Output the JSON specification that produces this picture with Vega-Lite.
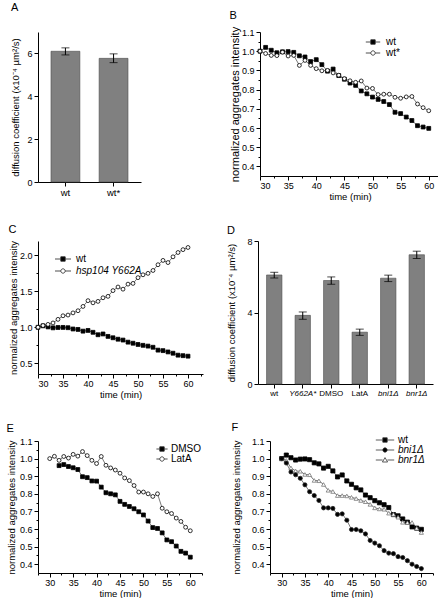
{
"$schema": "https://vega.github.io/schema/vega-lite/v6.json",
"padding": {"left": 6, "top": 2, "right": 0, "bottom": 0},
"config": {
  "font": "Liberation Sans",
  "view": {"stroke": null},
  "style": {"guide-title": {"fontWeight": "normal"}},
  "axis": {"grid": false, "domainColor": "black", "tickColor": "black", "labelColor": "black", "titleColor": "black", "labelFontSize": 9, "titleFontSize": 9.5, "titleFontWeight": "normal", "tickSize": 4, "domainWidth": 1, "tickWidth": 1},
  "axisX": {"labelPadding": 1, "titlePadding": 1},
  "axisY": {"labelPadding": 2, "titlePadding": 2},
  "legend": {"labelFontSize": 10, "labelColor": "black", "padding": 0},
  "title": {"fontSize": 11, "fontWeight": "normal", "anchor": "start", "frame": "bounds", "color": "black"}
},
"datasets": {
  "a": [
    {"g": "wt", "v": 6.1, "lo": 5.93, "hi": 6.26},
    {"g": "wt*", "v": 5.77, "lo": 5.57, "hi": 5.98}
  ],
  "d": [
    {"g": "wt", "v": 6.1, "lo": 5.93, "hi": 6.25},
    {"g": "Y662A*", "v": 3.84, "lo": 3.62, "hi": 4.03},
    {"g": "DMSO", "v": 5.79, "lo": 5.58, "hi": 5.99},
    {"g": "LatA", "v": 2.9, "lo": 2.72, "hi": 3.07},
    {"g": "bni1Δ", "v": 5.92, "lo": 5.73, "hi": 6.09},
    {"g": "bnr1Δ", "v": 7.23, "lo": 7.02, "hi": 7.43}
  ],
  "lines": [
    {"p": "BCF", "s": "wt", "t": 30, "v": 1.0},
    {"p": "BCF", "s": "wt", "t": 31, "v": 1.02},
    {"p": "BCF", "s": "wt", "t": 32, "v": 1.005},
    {"p": "BCF", "s": "wt", "t": 33, "v": 0.992},
    {"p": "BCF", "s": "wt", "t": 34, "v": 0.997},
    {"p": "BCF", "s": "wt", "t": 35, "v": 0.998},
    {"p": "BCF", "s": "wt", "t": 36, "v": 0.994},
    {"p": "BCF", "s": "wt", "t": 37, "v": 0.976},
    {"p": "BCF", "s": "wt", "t": 38, "v": 0.97},
    {"p": "BCF", "s": "wt", "t": 39, "v": 0.946},
    {"p": "BCF", "s": "wt", "t": 40, "v": 0.956},
    {"p": "BCF", "s": "wt", "t": 41, "v": 0.93},
    {"p": "BCF", "s": "wt", "t": 42, "v": 0.896},
    {"p": "BCF", "s": "wt", "t": 43, "v": 0.907},
    {"p": "BCF", "s": "wt", "t": 44, "v": 0.873},
    {"p": "BCF", "s": "wt", "t": 45, "v": 0.854},
    {"p": "BCF", "s": "wt", "t": 46, "v": 0.834},
    {"p": "BCF", "s": "wt", "t": 47, "v": 0.822},
    {"p": "BCF", "s": "wt", "t": 48, "v": 0.793},
    {"p": "BCF", "s": "wt", "t": 49, "v": 0.778},
    {"p": "BCF", "s": "wt", "t": 50, "v": 0.761},
    {"p": "BCF", "s": "wt", "t": 51, "v": 0.749},
    {"p": "BCF", "s": "wt", "t": 52, "v": 0.738},
    {"p": "BCF", "s": "wt", "t": 53, "v": 0.722},
    {"p": "BCF", "s": "wt", "t": 54, "v": 0.682},
    {"p": "BCF", "s": "wt", "t": 55, "v": 0.675},
    {"p": "BCF", "s": "wt", "t": 56, "v": 0.657},
    {"p": "BCF", "s": "wt", "t": 57, "v": 0.639},
    {"p": "BCF", "s": "wt", "t": 58, "v": 0.612},
    {"p": "BCF", "s": "wt", "t": 59, "v": 0.605},
    {"p": "BCF", "s": "wt", "t": 60, "v": 0.598},
    {"p": "B", "s": "wt*", "t": 30, "v": 1.0},
    {"p": "B", "s": "wt*", "t": 31, "v": 0.988},
    {"p": "B", "s": "wt*", "t": 32, "v": 0.978},
    {"p": "B", "s": "wt*", "t": 33, "v": 0.977},
    {"p": "B", "s": "wt*", "t": 34, "v": 0.995},
    {"p": "B", "s": "wt*", "t": 35, "v": 0.975},
    {"p": "B", "s": "wt*", "t": 36, "v": 0.978},
    {"p": "B", "s": "wt*", "t": 37, "v": 0.926},
    {"p": "B", "s": "wt*", "t": 38, "v": 0.952},
    {"p": "B", "s": "wt*", "t": 39, "v": 0.926},
    {"p": "B", "s": "wt*", "t": 40, "v": 0.909},
    {"p": "B", "s": "wt*", "t": 41, "v": 0.898},
    {"p": "B", "s": "wt*", "t": 42, "v": 0.9},
    {"p": "B", "s": "wt*", "t": 43, "v": 0.887},
    {"p": "B", "s": "wt*", "t": 44, "v": 0.875},
    {"p": "B", "s": "wt*", "t": 45, "v": 0.857},
    {"p": "B", "s": "wt*", "t": 46, "v": 0.846},
    {"p": "B", "s": "wt*", "t": 47, "v": 0.838},
    {"p": "B", "s": "wt*", "t": 48, "v": 0.845},
    {"p": "B", "s": "wt*", "t": 49, "v": 0.808},
    {"p": "B", "s": "wt*", "t": 50, "v": 0.806},
    {"p": "B", "s": "wt*", "t": 51, "v": 0.774},
    {"p": "B", "s": "wt*", "t": 52, "v": 0.776},
    {"p": "B", "s": "wt*", "t": 53, "v": 0.776},
    {"p": "B", "s": "wt*", "t": 54, "v": 0.76},
    {"p": "B", "s": "wt*", "t": 55, "v": 0.755},
    {"p": "B", "s": "wt*", "t": 56, "v": 0.762},
    {"p": "B", "s": "wt*", "t": 57, "v": 0.764},
    {"p": "B", "s": "wt*", "t": 58, "v": 0.725},
    {"p": "B", "s": "wt*", "t": 59, "v": 0.706},
    {"p": "B", "s": "wt*", "t": 60, "v": 0.69},
    {"p": "C", "s": "hsp104 Y662A", "t": 30, "v": 1.0},
    {"p": "C", "s": "hsp104 Y662A", "t": 31, "v": 1.024},
    {"p": "C", "s": "hsp104 Y662A", "t": 32, "v": 1.04},
    {"p": "C", "s": "hsp104 Y662A", "t": 33, "v": 1.06},
    {"p": "C", "s": "hsp104 Y662A", "t": 34, "v": 1.11},
    {"p": "C", "s": "hsp104 Y662A", "t": 35, "v": 1.16},
    {"p": "C", "s": "hsp104 Y662A", "t": 36, "v": 1.17},
    {"p": "C", "s": "hsp104 Y662A", "t": 37, "v": 1.2},
    {"p": "C", "s": "hsp104 Y662A", "t": 38, "v": 1.23},
    {"p": "C", "s": "hsp104 Y662A", "t": 39, "v": 1.29},
    {"p": "C", "s": "hsp104 Y662A", "t": 40, "v": 1.37},
    {"p": "C", "s": "hsp104 Y662A", "t": 41, "v": 1.34},
    {"p": "C", "s": "hsp104 Y662A", "t": 42, "v": 1.36},
    {"p": "C", "s": "hsp104 Y662A", "t": 43, "v": 1.41},
    {"p": "C", "s": "hsp104 Y662A", "t": 44, "v": 1.43},
    {"p": "C", "s": "hsp104 Y662A", "t": 45, "v": 1.51},
    {"p": "C", "s": "hsp104 Y662A", "t": 46, "v": 1.56},
    {"p": "C", "s": "hsp104 Y662A", "t": 47, "v": 1.53},
    {"p": "C", "s": "hsp104 Y662A", "t": 48, "v": 1.6},
    {"p": "C", "s": "hsp104 Y662A", "t": 49, "v": 1.61},
    {"p": "C", "s": "hsp104 Y662A", "t": 50, "v": 1.69},
    {"p": "C", "s": "hsp104 Y662A", "t": 51, "v": 1.73},
    {"p": "C", "s": "hsp104 Y662A", "t": 52, "v": 1.75},
    {"p": "C", "s": "hsp104 Y662A", "t": 53, "v": 1.79},
    {"p": "C", "s": "hsp104 Y662A", "t": 54, "v": 1.87},
    {"p": "C", "s": "hsp104 Y662A", "t": 55, "v": 1.93},
    {"p": "C", "s": "hsp104 Y662A", "t": 56, "v": 1.9},
    {"p": "C", "s": "hsp104 Y662A", "t": 57, "v": 1.98},
    {"p": "C", "s": "hsp104 Y662A", "t": 58, "v": 2.04},
    {"p": "C", "s": "hsp104 Y662A", "t": 59, "v": 2.08},
    {"p": "C", "s": "hsp104 Y662A", "t": 60, "v": 2.11},
    {"p": "E", "s": "LatA", "t": 30, "v": 1.0},
    {"p": "E", "s": "LatA", "t": 31, "v": 1.013},
    {"p": "E", "s": "LatA", "t": 32, "v": 0.99},
    {"p": "E", "s": "LatA", "t": 33, "v": 1.012},
    {"p": "E", "s": "LatA", "t": 34, "v": 1.003},
    {"p": "E", "s": "LatA", "t": 35, "v": 1.024},
    {"p": "E", "s": "LatA", "t": 36, "v": 1.014},
    {"p": "E", "s": "LatA", "t": 37, "v": 1.04},
    {"p": "E", "s": "LatA", "t": 38, "v": 1.017},
    {"p": "E", "s": "LatA", "t": 39, "v": 0.99},
    {"p": "E", "s": "LatA", "t": 40, "v": 0.972},
    {"p": "E", "s": "LatA", "t": 41, "v": 1.012},
    {"p": "E", "s": "LatA", "t": 42, "v": 0.962},
    {"p": "E", "s": "LatA", "t": 43, "v": 0.947},
    {"p": "E", "s": "LatA", "t": 44, "v": 0.935},
    {"p": "E", "s": "LatA", "t": 45, "v": 0.917},
    {"p": "E", "s": "LatA", "t": 46, "v": 0.89},
    {"p": "E", "s": "LatA", "t": 47, "v": 0.875},
    {"p": "E", "s": "LatA", "t": 48, "v": 0.847},
    {"p": "E", "s": "LatA", "t": 49, "v": 0.81},
    {"p": "E", "s": "LatA", "t": 50, "v": 0.81},
    {"p": "E", "s": "LatA", "t": 51, "v": 0.8},
    {"p": "E", "s": "LatA", "t": 52, "v": 0.785},
    {"p": "E", "s": "LatA", "t": 53, "v": 0.8},
    {"p": "E", "s": "LatA", "t": 54, "v": 0.718},
    {"p": "E", "s": "LatA", "t": 55, "v": 0.698},
    {"p": "E", "s": "LatA", "t": 56, "v": 0.688},
    {"p": "E", "s": "LatA", "t": 57, "v": 0.662},
    {"p": "E", "s": "LatA", "t": 58, "v": 0.643},
    {"p": "E", "s": "LatA", "t": 59, "v": 0.61},
    {"p": "E", "s": "LatA", "t": 60, "v": 0.59},
    {"p": "E", "s": "DMSO", "t": 32, "v": 0.96},
    {"p": "E", "s": "DMSO", "t": 33, "v": 0.966},
    {"p": "E", "s": "DMSO", "t": 34, "v": 0.955},
    {"p": "E", "s": "DMSO", "t": 35, "v": 0.948},
    {"p": "E", "s": "DMSO", "t": 36, "v": 0.938},
    {"p": "E", "s": "DMSO", "t": 37, "v": 0.897},
    {"p": "E", "s": "DMSO", "t": 38, "v": 0.892},
    {"p": "E", "s": "DMSO", "t": 39, "v": 0.873},
    {"p": "E", "s": "DMSO", "t": 40, "v": 0.872},
    {"p": "E", "s": "DMSO", "t": 41, "v": 0.838},
    {"p": "E", "s": "DMSO", "t": 42, "v": 0.806},
    {"p": "E", "s": "DMSO", "t": 43, "v": 0.8},
    {"p": "E", "s": "DMSO", "t": 44, "v": 0.794},
    {"p": "E", "s": "DMSO", "t": 45, "v": 0.757},
    {"p": "E", "s": "DMSO", "t": 46, "v": 0.74},
    {"p": "E", "s": "DMSO", "t": 47, "v": 0.728},
    {"p": "E", "s": "DMSO", "t": 48, "v": 0.715},
    {"p": "E", "s": "DMSO", "t": 49, "v": 0.698},
    {"p": "E", "s": "DMSO", "t": 50, "v": 0.68},
    {"p": "E", "s": "DMSO", "t": 51, "v": 0.645},
    {"p": "E", "s": "DMSO", "t": 52, "v": 0.608},
    {"p": "E", "s": "DMSO", "t": 53, "v": 0.603},
    {"p": "E", "s": "DMSO", "t": 54, "v": 0.578},
    {"p": "E", "s": "DMSO", "t": 55, "v": 0.538},
    {"p": "E", "s": "DMSO", "t": 56, "v": 0.528},
    {"p": "E", "s": "DMSO", "t": 57, "v": 0.503},
    {"p": "E", "s": "DMSO", "t": 58, "v": 0.473},
    {"p": "E", "s": "DMSO", "t": 59, "v": 0.463},
    {"p": "E", "s": "DMSO", "t": 60, "v": 0.44},
    {"p": "F", "s": "bnr1Δ", "t": 30, "v": 1.0},
    {"p": "F", "s": "bnr1Δ", "t": 31, "v": 0.99},
    {"p": "F", "s": "bnr1Δ", "t": 32, "v": 0.947},
    {"p": "F", "s": "bnr1Δ", "t": 33, "v": 0.93},
    {"p": "F", "s": "bnr1Δ", "t": 34, "v": 0.928},
    {"p": "F", "s": "bnr1Δ", "t": 35, "v": 0.91},
    {"p": "F", "s": "bnr1Δ", "t": 36, "v": 0.908},
    {"p": "F", "s": "bnr1Δ", "t": 37, "v": 0.876},
    {"p": "F", "s": "bnr1Δ", "t": 38, "v": 0.874},
    {"p": "F", "s": "bnr1Δ", "t": 39, "v": 0.853},
    {"p": "F", "s": "bnr1Δ", "t": 40, "v": 0.82},
    {"p": "F", "s": "bnr1Δ", "t": 41, "v": 0.813},
    {"p": "F", "s": "bnr1Δ", "t": 42, "v": 0.79},
    {"p": "F", "s": "bnr1Δ", "t": 43, "v": 0.79},
    {"p": "F", "s": "bnr1Δ", "t": 44, "v": 0.788},
    {"p": "F", "s": "bnr1Δ", "t": 45, "v": 0.78},
    {"p": "F", "s": "bnr1Δ", "t": 46, "v": 0.773},
    {"p": "F", "s": "bnr1Δ", "t": 47, "v": 0.762},
    {"p": "F", "s": "bnr1Δ", "t": 48, "v": 0.755},
    {"p": "F", "s": "bnr1Δ", "t": 49, "v": 0.74},
    {"p": "F", "s": "bnr1Δ", "t": 50, "v": 0.72},
    {"p": "F", "s": "bnr1Δ", "t": 51, "v": 0.714},
    {"p": "F", "s": "bnr1Δ", "t": 52, "v": 0.712},
    {"p": "F", "s": "bnr1Δ", "t": 53, "v": 0.69},
    {"p": "F", "s": "bnr1Δ", "t": 54, "v": 0.683},
    {"p": "F", "s": "bnr1Δ", "t": 55, "v": 0.667},
    {"p": "F", "s": "bnr1Δ", "t": 56, "v": 0.638},
    {"p": "F", "s": "bnr1Δ", "t": 57, "v": 0.636},
    {"p": "F", "s": "bnr1Δ", "t": 58, "v": 0.637},
    {"p": "F", "s": "bnr1Δ", "t": 59, "v": 0.604},
    {"p": "F", "s": "bnr1Δ", "t": 60, "v": 0.58},
    {"p": "F", "s": "bni1Δ", "t": 30, "v": 1.0},
    {"p": "F", "s": "bni1Δ", "t": 31, "v": 0.975},
    {"p": "F", "s": "bni1Δ", "t": 32, "v": 0.924},
    {"p": "F", "s": "bni1Δ", "t": 33, "v": 0.908},
    {"p": "F", "s": "bni1Δ", "t": 34, "v": 0.888},
    {"p": "F", "s": "bni1Δ", "t": 35, "v": 0.851},
    {"p": "F", "s": "bni1Δ", "t": 36, "v": 0.812},
    {"p": "F", "s": "bni1Δ", "t": 37, "v": 0.79},
    {"p": "F", "s": "bni1Δ", "t": 38, "v": 0.762},
    {"p": "F", "s": "bni1Δ", "t": 39, "v": 0.72},
    {"p": "F", "s": "bni1Δ", "t": 40, "v": 0.72},
    {"p": "F", "s": "bni1Δ", "t": 41, "v": 0.717},
    {"p": "F", "s": "bni1Δ", "t": 42, "v": 0.683},
    {"p": "F", "s": "bni1Δ", "t": 43, "v": 0.686},
    {"p": "F", "s": "bni1Δ", "t": 44, "v": 0.65},
    {"p": "F", "s": "bni1Δ", "t": 45, "v": 0.597},
    {"p": "F", "s": "bni1Δ", "t": 46, "v": 0.597},
    {"p": "F", "s": "bni1Δ", "t": 47, "v": 0.59},
    {"p": "F", "s": "bni1Δ", "t": 48, "v": 0.572},
    {"p": "F", "s": "bni1Δ", "t": 49, "v": 0.535},
    {"p": "F", "s": "bni1Δ", "t": 50, "v": 0.52},
    {"p": "F", "s": "bni1Δ", "t": 51, "v": 0.505},
    {"p": "F", "s": "bni1Δ", "t": 52, "v": 0.477},
    {"p": "F", "s": "bni1Δ", "t": 53, "v": 0.463},
    {"p": "F", "s": "bni1Δ", "t": 54, "v": 0.46},
    {"p": "F", "s": "bni1Δ", "t": 55, "v": 0.443},
    {"p": "F", "s": "bni1Δ", "t": 56, "v": 0.438},
    {"p": "F", "s": "bni1Δ", "t": 57, "v": 0.42},
    {"p": "F", "s": "bni1Δ", "t": 58, "v": 0.4},
    {"p": "F", "s": "bni1Δ", "t": 59, "v": 0.387},
    {"p": "F", "s": "bni1Δ", "t": 60, "v": 0.375}
  ]
},
"spacing": 23,
"vconcat": [
{
  "spacing": 88,
  "hconcat": [
  {
    "width": 103, "height": 150,
    "title": {"text": "A", "offset": 19},
    "data": {"name": "a"},
    "encoding": {"x": {"field": "g", "type": "nominal", "sort": null, "scale": {"paddingInner": 0.4, "paddingOuter": 0.27}, "axis": {"title": null, "labelAngle": 0, "labelFontSize": 9.5}}},
    "layer": [
      {"mark": {"type": "bar", "fill": "#808080", "stroke": "#4d4d4d", "strokeWidth": 0.6},
       "encoding": {"y": {"field": "v", "type": "quantitative", "scale": {"domain": [0, 7], "nice": false}, "axis": {"title": "diffusion coefficient (x10⁻⁴ µm²/s)", "titlePadding": 6, "values": [0,1,2,3,4,5,6,7], "labelExpr": "datum.value % 2 === 0 ? datum.label : ''", "tickSize": {"condition": {"test": "datum.value % 2 !== 0", "value": 2}, "value": 4}}}}},
      {"mark": {"type": "rule", "color": "black", "strokeWidth": 1}, "encoding": {"y": {"field": "lo", "type": "quantitative"}, "y2": {"field": "hi"}}},
      {"mark": {"type": "tick", "color": "black", "size": 8, "thickness": 1}, "encoding": {"y": {"field": "lo", "type": "quantitative"}}},
      {"mark": {"type": "tick", "color": "black", "size": 8, "thickness": 1}, "encoding": {"y": {"field": "hi", "type": "quantitative"}}}
    ]
  },
  {
    "width": 180, "height": 144,
    "title": {"text": "B", "offset": 5},
    "data": {"name": "lines"},
    "transform": [{"filter": "indexof(datum.p, 'B') >= 0"}],
    "encoding": {
      "x": {"field": "t", "type": "quantitative", "scale": {"domain": [30, 62], "nice": false, "zero": false},
            "axis": {"title": "time (min)", "values": [30,32.5,35,37.5,40,42.5,45,47.5,50,52.5,55,57.5,60], "labelExpr": "datum.value % 5 === 0 ? datum.label : ''", "tickSize": {"condition": {"test": "datum.value % 5 !== 0", "value": 2}, "value": 4}}},
      "y": {"field": "v", "type": "quantitative", "scale": {"domain": [0.35, 1.1], "nice": false, "zero": false},
            "axis": {"title": "normalized aggregates intensity", "titleFontSize": 11, "titlePadding": 1, "values": [0.4,0.45,0.5,0.55,0.6,0.65,0.7,0.75,0.8,0.85,0.9,0.95,1.0,1.05,1.1], "labelExpr": "abs(datum.value*10 - round(datum.value*10)) < 0.001 ? format(datum.value, '.1f') : ''", "tickSize": {"condition": {"test": "abs(datum.value*10 - round(datum.value*10)) > 0.001", "value": 2}, "value": 4}}}
    },
    "layer": [
      {"mark": {"type": "line", "color": "#555", "strokeWidth": 0.8}, "encoding": {"detail": {"field": "s"}}},
      {"mark": {"type": "point", "filled": true, "opacity": 1, "size": 15, "stroke": "black", "strokeWidth": 0.8},
       "encoding": {"shape": {"field": "s", "scale": {"domain": ["wt", "wt*"], "range": ["square", "circle"]}, "legend": null},
                    "fill": {"field": "s", "scale": {"domain": ["wt", "wt*"], "range": ["black", "white"]}, "legend": null}}},
      {"mark": {"type": "point", "filled": true, "opacity": 0, "size": 64, "stroke": "#222", "strokeWidth": 0.8},
       "encoding": {"shape": {"field": "s", "scale": {"domain": ["wt", "wt*"], "range": ["M-1.8,0H-0.55M0.55,0H1.8M-0.55,-0.55H0.55V0.55H-0.55Z", "M-1.8,0H-0.55M0.55,0H1.8M-0.55,0A0.55,0.55 0 1,1 0.55,0A0.55,0.55 0 1,1 -0.55,0Z"]},
                              "legend": {"title": null, "orient": "none", "legendX": 108, "legendY": 5, "symbolOpacity": 1, "symbolSize": 64, "labelOffset": 8, "rowPadding": 1, "symbolStrokeColor": "#222", "symbolStrokeWidth": 0.8, "encode": {"labels": {"update": {"fontStyle": {"value": "normal"}}}}}},
                    "fill": {"field": "s", "scale": {"domain": ["wt", "wt*"], "range": ["black", "white"]},
                              "legend": {"title": null, "orient": "none", "legendX": 108, "legendY": 5, "symbolOpacity": 1, "symbolSize": 64, "labelOffset": 8, "rowPadding": 1, "symbolStrokeColor": "#222", "symbolStrokeWidth": 0.8, "encode": {"labels": {"update": {"fontStyle": {"value": "normal"}}}}}}}}
    ],
    "resolve": {"scale": {"shape": "independent", "fill": "independent"}}
  }
  ]
},
{
  "spacing": 23,
  "hconcat": [
  {
    "width": 165, "height": 133,
    "title": {"text": "C", "offset": 5},
    "data": {"name": "lines"},
    "transform": [{"filter": "indexof(datum.p, 'C') >= 0"}],
    "encoding": {
      "x": {"field": "t", "type": "quantitative", "scale": {"domain": [30, 63], "nice": false, "zero": false},
            "axis": {"title": "time (min)", "values": [30,32.5,35,37.5,40,42.5,45,47.5,50,52.5,55,57.5,60,62.5], "labelExpr": "datum.value % 5 === 0 ? datum.label : ''", "tickSize": {"condition": {"test": "datum.value % 5 !== 0", "value": 2}, "value": 4}}},
      "y": {"field": "v", "type": "quantitative", "scale": {"domain": [0.35, 2.2], "nice": false, "zero": false},
            "axis": {"title": "normalized aggregates intensity", "titlePadding": 1, "values": [0.5,0.75,1.0,1.25,1.5,1.75,2.0], "labelExpr": "abs(datum.value*2 - round(datum.value*2)) < 0.001 ? format(datum.value, '.1f') : ''", "tickSize": {"condition": {"test": "abs(datum.value*2 - round(datum.value*2)) > 0.001", "value": 2}, "value": 4}}}
    },
    "layer": [
      {"mark": {"type": "line", "color": "#555", "strokeWidth": 0.8}, "encoding": {"detail": {"field": "s"}}},
      {"mark": {"type": "point", "filled": true, "opacity": 1, "size": 15, "stroke": "black", "strokeWidth": 0.8},
       "encoding": {"shape": {"field": "s", "scale": {"domain": ["wt", "hsp104 Y662A"], "range": ["square", "circle"]}, "legend": null},
                    "fill": {"field": "s", "scale": {"domain": ["wt", "hsp104 Y662A"], "range": ["black", "white"]}, "legend": null}}},
      {"mark": {"type": "point", "filled": true, "opacity": 0, "size": 64, "stroke": "#222", "strokeWidth": 0.8},
       "encoding": {"shape": {"field": "s", "scale": {"domain": ["wt", "hsp104 Y662A"], "range": ["M-2,0H-0.55M0.55,0H2M-0.55,-0.55H0.55V0.55H-0.55Z", "M-2,0H-0.55M0.55,0H2M-0.55,0A0.55,0.55 0 1,1 0.55,0A0.55,0.55 0 1,1 -0.55,0Z"]},
                              "legend": {"title": null, "orient": "none", "legendX": 20, "legendY": 13, "symbolOpacity": 1, "symbolSize": 64, "labelOffset": 8, "rowPadding": 2, "symbolStrokeColor": "#222", "symbolStrokeWidth": 0.8, "encode": {"labels": {"update": {"fontStyle": {"signal": "datum.label === 'wt' ? 'normal' : 'italic'"}}}}}},
                    "fill": {"field": "s", "scale": {"domain": ["wt", "hsp104 Y662A"], "range": ["black", "white"]},
                              "legend": {"title": null, "orient": "none", "legendX": 20, "legendY": 13, "symbolOpacity": 1, "symbolSize": 64, "labelOffset": 8, "rowPadding": 2, "symbolStrokeColor": "#222", "symbolStrokeWidth": 0.8, "encode": {"labels": {"update": {"fontStyle": {"signal": "datum.label === 'wt' ? 'normal' : 'italic'"}}}}}}}}
    ],
    "resolve": {"scale": {"shape": "independent", "fill": "independent"}}
  },
  {
    "width": 175, "height": 143,
    "title": {"text": "D", "offset": 1},
    "data": {"name": "d"},
    "encoding": {"x": {"field": "g", "type": "nominal", "sort": null, "scale": {"paddingInner": 0.46, "paddingOuter": 0.3}, "axis": {"title": null, "labelAngle": 0, "labelFontSize": 8, "labelFontStyle": {"condition": {"test": "indexof(['Y662A*','bni1Δ','bnr1Δ'], datum.value) >= 0", "value": "italic"}, "value": "normal"}}}},
    "layer": [
      {"mark": {"type": "bar", "fill": "#808080", "stroke": "#4d4d4d", "strokeWidth": 0.6},
       "encoding": {"y": {"field": "v", "type": "quantitative", "scale": {"domain": [0, 8], "nice": false}, "axis": {"title": "diffusion coefficient (x10⁻⁴ µm²/s)", "titlePadding": 10, "values": [0,1,2,3,4,5,6,7,8], "labelExpr": "datum.value % 2 === 0 ? datum.label : ''", "tickSize": {"condition": {"test": "datum.value % 2 !== 0", "value": 2}, "value": 4}}}}},
      {"mark": {"type": "rule", "color": "black", "strokeWidth": 1}, "encoding": {"y": {"field": "lo", "type": "quantitative"}, "y2": {"field": "hi"}}},
      {"mark": {"type": "tick", "color": "black", "size": 8, "thickness": 1}, "encoding": {"y": {"field": "lo", "type": "quantitative"}}},
      {"mark": {"type": "tick", "color": "black", "size": 8, "thickness": 1}, "encoding": {"y": {"field": "hi", "type": "quantitative"}}}
    ]
  }
  ]
},
{
  "spacing": 28,
  "hconcat": [
  {
    "width": 164, "height": 132,
    "title": {"text": "E", "offset": 3},
    "data": {"name": "lines"},
    "transform": [{"filter": "indexof(datum.p, 'E') >= 0"}],
    "encoding": {
      "x": {"field": "t", "type": "quantitative", "scale": {"domain": [27.5, 62.5], "nice": false, "zero": false},
            "axis": {"title": "time (min)", "values": [27.5,30,32.5,35,37.5,40,42.5,45,47.5,50,52.5,55,57.5,60,62.5], "labelExpr": "datum.value % 5 === 0 ? datum.label : ''", "tickSize": {"condition": {"test": "datum.value % 5 !== 0", "value": 2}, "value": 4}}},
      "y": {"field": "v", "type": "quantitative", "scale": {"domain": [0.35, 1.1], "nice": false, "zero": false},
            "axis": {"title": "normalized aggregates intensity", "titlePadding": 3, "values": [0.4,0.45,0.5,0.55,0.6,0.65,0.7,0.75,0.8,0.85,0.9,0.95,1.0,1.05,1.1], "labelExpr": "abs(datum.value*10 - round(datum.value*10)) < 0.001 ? format(datum.value, '.1f') : ''", "tickSize": {"condition": {"test": "abs(datum.value*10 - round(datum.value*10)) > 0.001", "value": 2}, "value": 4}}}
    },
    "layer": [
      {"mark": {"type": "line", "color": "#555", "strokeWidth": 0.8}, "encoding": {"detail": {"field": "s"}}},
      {"mark": {"type": "point", "filled": true, "opacity": 1, "size": 15, "stroke": "black", "strokeWidth": 0.8},
       "encoding": {"shape": {"field": "s", "scale": {"domain": ["DMSO", "LatA"], "range": ["square", "circle"]}, "legend": null},
                    "fill": {"field": "s", "scale": {"domain": ["DMSO", "LatA"], "range": ["black", "white"]}, "legend": null}}},
      {"mark": {"type": "point", "filled": true, "opacity": 0, "size": 64, "stroke": "#222", "strokeWidth": 0.8},
       "encoding": {"shape": {"field": "s", "scale": {"domain": ["DMSO", "LatA"], "range": ["M-1.4,0H-0.55M0.55,0H1.4M-0.55,-0.55H0.55V0.55H-0.55Z", "M-1.4,0H-0.55M0.55,0H1.4M-0.55,0A0.55,0.55 0 1,1 0.55,0A0.55,0.55 0 1,1 -0.55,0Z"]},
                              "legend": {"title": null, "orient": "none", "legendX": 119, "legendY": 3, "symbolOpacity": 1, "symbolSize": 64, "labelOffset": 4, "rowPadding": 0, "symbolStrokeColor": "#222", "symbolStrokeWidth": 0.8, "encode": {"labels": {"update": {"fontStyle": {"value": "normal"}}}}}},
                    "fill": {"field": "s", "scale": {"domain": ["DMSO", "LatA"], "range": ["black", "white"]},
                              "legend": {"title": null, "orient": "none", "legendX": 119, "legendY": 3, "symbolOpacity": 1, "symbolSize": 64, "labelOffset": 4, "rowPadding": 0, "symbolStrokeColor": "#222", "symbolStrokeWidth": 0.8, "encode": {"labels": {"update": {"fontStyle": {"value": "normal"}}}}}}}}
    ],
    "resolve": {"scale": {"shape": "independent", "fill": "independent"}}
  },
  {
    "width": 163, "height": 132,
    "title": {"text": "F", "offset": 2},
    "data": {"name": "lines"},
    "transform": [{"filter": "indexof(datum.p, 'F') >= 0"}],
    "encoding": {
      "x": {"field": "t", "type": "quantitative", "scale": {"domain": [27.5, 62.5], "nice": false, "zero": false},
            "axis": {"title": "time (min)", "values": [27.5,30,32.5,35,37.5,40,42.5,45,47.5,50,52.5,55,57.5,60,62.5], "labelExpr": "datum.value % 5 === 0 ? datum.label : ''", "tickSize": {"condition": {"test": "datum.value % 5 !== 0", "value": 2}, "value": 4}}},
      "y": {"field": "v", "type": "quantitative", "scale": {"domain": [0.35, 1.1], "nice": false, "zero": false},
            "axis": {"title": "normalized aggregates intensity", "titlePadding": 10, "values": [0.4,0.45,0.5,0.55,0.6,0.65,0.7,0.75,0.8,0.85,0.9,0.95,1.0,1.05,1.1], "labelExpr": "abs(datum.value*10 - round(datum.value*10)) < 0.001 ? format(datum.value, '.1f') : ''", "tickSize": {"condition": {"test": "abs(datum.value*10 - round(datum.value*10)) > 0.001", "value": 2}, "value": 4}}}
    },
    "layer": [
      {"mark": {"type": "line", "color": "#555", "strokeWidth": 0.8}, "encoding": {"detail": {"field": "s"}}},
      {"mark": {"type": "point", "filled": true, "opacity": 1, "size": 17, "strokeWidth": 0.8},
       "encoding": {"shape": {"field": "s", "scale": {"domain": ["wt", "bni1Δ", "bnr1Δ"], "range": ["square", "circle", "triangle-up"]}, "legend": null},
                    "fill": {"field": "s", "scale": {"domain": ["wt", "bni1Δ", "bnr1Δ"], "range": ["black", "black", "white"]}, "legend": null},
                    "stroke": {"field": "s", "scale": {"domain": ["wt", "bni1Δ", "bnr1Δ"], "range": ["black", "#222", "#777"]}, "legend": null}}},
      {"mark": {"type": "point", "filled": true, "opacity": 0, "size": 64, "stroke": "#333", "strokeWidth": 0.8},
       "encoding": {"shape": {"field": "s", "scale": {"domain": ["wt", "bni1Δ", "bnr1Δ"], "range": ["M-2.3,0H-0.55M0.55,0H2.3M-0.55,-0.55H0.55V0.55H-0.55Z", "M-2.3,0H-0.55M0.55,0H2.3M-0.55,0A0.55,0.55 0 1,1 0.55,0A0.55,0.55 0 1,1 -0.55,0Z", "M-2.3,0H-0.6M0.6,0H2.3M0,-0.6L0.65,0.5H-0.65Z"]},
                              "legend": {"title": null, "orient": "none", "legendX": 110, "legendY": -6, "symbolOpacity": 1, "symbolSize": 64, "labelOffset": 8, "rowPadding": 0, "symbolStrokeColor": "#333", "symbolStrokeWidth": 0.8, "encode": {"labels": {"update": {"fontStyle": {"signal": "datum.label === 'wt' ? 'normal' : 'italic'"}}}}}},
                    "fill": {"field": "s", "scale": {"domain": ["wt", "bni1Δ", "bnr1Δ"], "range": ["black", "black", "white"]},
                              "legend": {"title": null, "orient": "none", "legendX": 110, "legendY": -6, "symbolOpacity": 1, "symbolSize": 64, "labelOffset": 8, "rowPadding": 0, "symbolStrokeColor": "#333", "symbolStrokeWidth": 0.8, "encode": {"labels": {"update": {"fontStyle": {"signal": "datum.label === 'wt' ? 'normal' : 'italic'"}}}}}}}}
    ],
    "resolve": {"scale": {"shape": "independent", "fill": "independent", "stroke": "independent"}}
  }
  ]
}
]
}
